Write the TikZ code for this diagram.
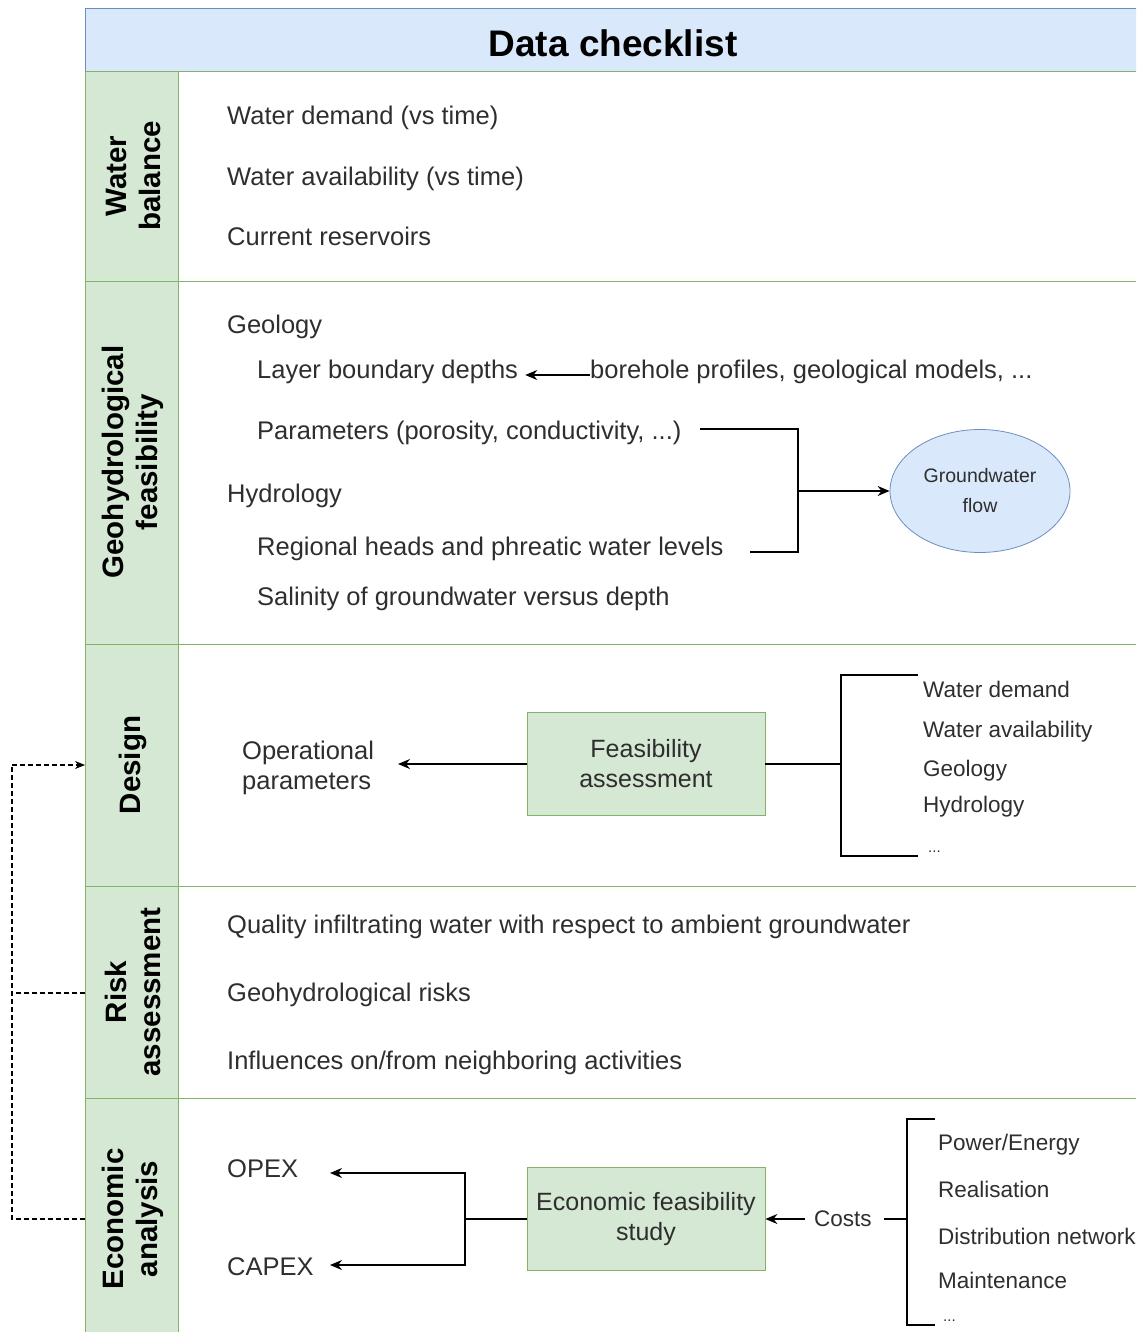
\documentclass[tikz,border=0pt]{standalone}
\usepackage{fontspec}
\setmainfont{Liberation Sans}
\usetikzlibrary{arrows.meta,shapes.geometric}
\definecolor{hdrfill}{HTML}{DAE8FC}
\definecolor{hdrdraw}{HTML}{6C8EBF}
\definecolor{grnfill}{HTML}{D5E8D4}
\definecolor{grndraw}{HTML}{82B366}
\definecolor{txt}{HTML}{2E2E2E}
\begin{document}
\begin{tikzpicture}[x=1pt,y=-1pt,
  bt/.style={anchor=west,inner sep=0pt,text=txt,font=\fontsize{25.5}{30}\selectfont,text height=0.8em,text depth=0.1em,yshift=-5pt},
  st/.style={anchor=west,inner sep=0pt,text=txt,font=\fontsize{22.5}{27}\selectfont,text height=0.8em,text depth=0.1em,yshift=-4pt},
  rowlab/.style={rotate=90,align=center,font=\bfseries\fontsize{29.5}{34}\selectfont,inner sep=0pt},
  gbox/.style={draw=grndraw,fill=grnfill,minimum width=238pt,minimum height=103pt,align=center,text=txt,font=\fontsize{25}{30}\selectfont,line width=0.8pt},
  conn/.style={line width=1.4pt,black},
  arr/.style={conn,-{Stealth[length=12pt,width=10pt]}},
  dsh/.style={line width=1.1pt,black,dash pattern=on 5pt off 3pt}]
\useasboundingbox (0,0) rectangle (1136,1332);
\clip (0,0) rectangle (1136,1332);
% table frame
\fill[hdrfill] (85,9) rectangle (1150,72);
\draw[hdrdraw,line width=1pt] (1150,9) -- (85,9) -- (85,72);
\fill[grnfill] (85,72) rectangle (178,1345);
\draw[grndraw,line width=1pt] (85,72) -- (1150,72);
\foreach \yy in {281,644,886,1098} \draw[grndraw,line width=1pt] (85,\yy) -- (1150,\yy);
\draw[grndraw,line width=1pt] (85,72) -- (85,1345);
\draw[grndraw,line width=1pt] (178,72) -- (178,1345);
\node[font=\bfseries\fontsize{37}{44}\selectfont,inner sep=0pt] (title) at (613,43) {Data checklist};
% row labels
\node[rowlab] (lwb) at (133,176) {Water\\balance};
\node[rowlab] (lgh) at (133,462) {Geohydrological\\feasibility};
\node[rowlab] (lds) at (133,765) {Design};
\node[rowlab] (lra) at (133,992) {Risk\\assessment};
\node[rowlab] (lea) at (133,1219) {Economic\\analysis};
% water balance
\node[bt] (wb1) at (227,116) {Water demand (vs time)};
\node[bt] (wb2) at (227,177) {Water availability (vs time)};
\node[bt] (wb3) at (227,237) {Current reservoirs};
% geohydrology
\node[bt] (geo) at (227,325) {Geology};
\node[bt] (lbd) at (257,370) {Layer boundary depths};
\node[bt] (bor) at (590,370) {borehole profiles, geological models, ...};
\node[bt] (par) at (257,431) {Parameters (porosity, conductivity, ...)};
\node[bt] (hyd) at (227,494) {Hydrology};
\node[bt] (reg) at (257,547) {Regional heads and phreatic water levels};
\node[bt] (sal) at (257,597) {Salinity of groundwater versus depth};
\node[ellipse,draw=hdrdraw,fill=hdrfill,minimum width=180pt,minimum height=123pt,align=center,text=txt,font=\fontsize{19.5}{30}\selectfont,line width=0.8pt] (gw) at (980,491) {Groundwater\\flow};
\draw[arr] (bor.west) -- ([xshift=7pt]lbd.east);
\coordinate (p1) at (700,429);
\coordinate (p2) at (798,429);
\coordinate (p3) at (798,552);
\coordinate (p4) at (750,552);
\coordinate (pm) at (798,491);
\draw[conn] (p1) -- (p2) -- (p3) -- (p4);
\draw[arr] (pm) -- (gw.west);
% design
\node[anchor=west,inner sep=0pt,align=left,text=txt,font=\fontsize{25.5}{30}\selectfont,yshift=-3pt] (op) at (242,765) {Operational\\parameters};
\node[gbox] (fa) at (646,764) {Feasibility\\assessment};
\coordinate (opt) at (398,764);
\draw[arr] (fa.west) -- (opt);
\coordinate (b1) at (841,764);
\coordinate (b2) at (918,675);
\coordinate (b3) at (841,675);
\coordinate (b4) at (841,856);
\coordinate (b5) at (918,856);
\draw[conn] (fa.east) -- (b1);
\draw[conn] (b2) -- (b3) -- (b4) -- (b5);
\node[st] (d1) at (923,690) {Water demand};
\node[st] (d2) at (923,730) {Water availability};
\node[st] (d3) at (923,769) {Geology};
\node[st] (d4) at (923,805) {Hydrology};
\node[st,font=\fontsize{15}{18}\selectfont] (d5) at (928,845) {...};
% risk
\node[bt] (r1) at (227,925) {Quality infiltrating water with respect to ambient groundwater};
\node[bt] (r2) at (227,993) {Geohydrological risks};
\node[bt] (r3) at (227,1061) {Influences on/from neighboring activities};
% economic
\node[bt] (opex) at (227,1169) {OPEX};
\node[bt] (capex) at (227,1267) {CAPEX};
\node[gbox] (efs) at (646,1219) {Economic feasibility\\study};
\coordinate (j) at (465,1219);
\coordinate (jo) at (330,1173);
\coordinate (jc) at (330,1265);
\draw[conn] (efs.west) -- (j);
\draw[arr] (j) |- (jo);
\draw[arr] (j) |- (jc);
\node[st,yshift=0pt] (costs) at (814,1219) {Costs};
\coordinate (ct) at (805,1219);
\draw[arr] (ct) -- (efs.east);
\coordinate (k0) at (884,1219);
\coordinate (k1) at (907,1219);
\coordinate (k2) at (935,1119);
\coordinate (k3) at (907,1119);
\coordinate (k4) at (907,1325);
\coordinate (k5) at (935,1325);
\draw[conn] (k0) -- (k1);
\draw[conn] (k2) -- (k3) -- (k4) -- (k5);
\node[st] (c1) at (938,1143) {Power/Energy};
\node[st] (c2) at (938,1190) {Realisation};
\node[st] (c3) at (938,1237) {Distribution network};
\node[st] (c4) at (938,1281) {Maintenance};
\node[st,font=\fontsize{15}{18}\selectfont] (c5) at (943,1314) {...};
% dashed feedback
\coordinate (f1) at (85,1219);
\coordinate (f2) at (12,1219);
\coordinate (f3) at (12,765);
\coordinate (f4) at (85,765);
\coordinate (f5) at (85,993);
\coordinate (f6) at (12,993);
\draw[dsh] (f1) -- (f2) -- (f3);
\draw[dsh,-{Stealth[length=10pt,width=8pt]}] (f3) -- (f4);
\draw[dsh] (f5) -- (f6);
\end{tikzpicture}
\end{document}
